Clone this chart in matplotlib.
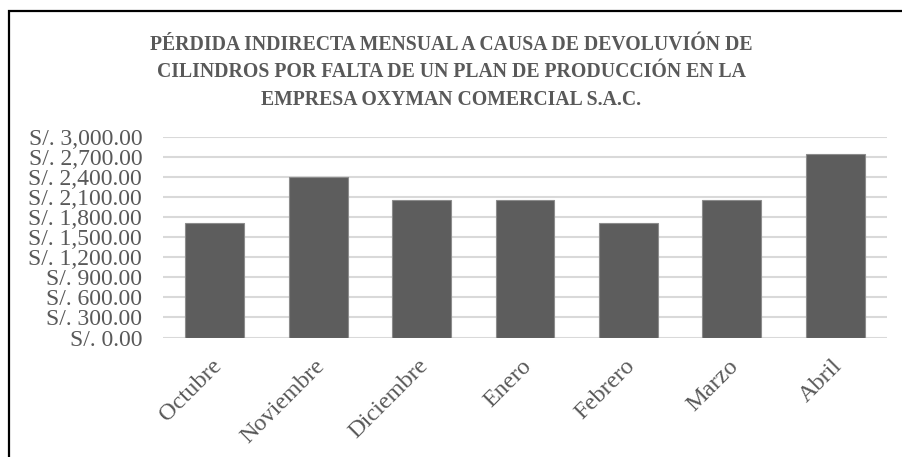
import matplotlib.pyplot as plt
import matplotlib.transforms as mtransforms
from matplotlib.patches import Rectangle

# Data
meses = ['Octubre', 'Noviembre', 'Diciembre', 'Enero', 'Febrero', 'Marzo', 'Abril']
perdida = [1715, 2401, 2058, 2058, 1715, 2058, 2744]
yticks = list(range(0, 3001, 300))

gris = '#595959'
plt.rcParams['font.family'] = ['Liberation Serif', 'DejaVu Serif']

fig = plt.figure(figsize=(9.03, 4.57), dpi=100)
ax = fig.add_axes([163 / 903, 1 - 337.5 / 457, (887 - 163) / 903, (337.5 - 137) / 457])

ax.bar(range(len(meses)), perdida, width=0.57, color='#5d5d5d', edgecolor='#8c8c8c', linewidth=0.8, zorder=3)

ax.set_ylim(0, 3000)
ax.set_xlim(-0.5, len(meses) - 0.5)
ax.set_yticks(yticks)
ax.set_yticklabels(['S/. {:,.2f}'.format(v) for v in yticks], fontsize=17, color=gris)
ax.set_xticks(range(len(meses)))
ax.set_xticklabels(meses, rotation=45, ha='right', rotation_mode='anchor', fontsize=17.5, color=gris)
ax.tick_params(axis='x', length=0, pad=13)
ax.tick_params(axis='y', length=0, pad=15)
ax.yaxis.grid(True, color='#d9d9d9', linewidth=1.5, zorder=0)
for s in ax.spines.values():
    s.set_visible(False)

# desplazar un poco las etiquetas del eje x a la izquierda
desp = mtransforms.ScaledTranslation(-4 / 100, 0, fig.dpi_scale_trans)
for lbl in ax.get_xticklabels():
    lbl.set_transform(lbl.get_transform() + desp)

fig.text(0.5, 1 - 72 / 457,
         'PÉRDIDA INDIRECTA MENSUAL A CAUSA DE DEVOLUVIÓN DE\n'
         'CILINDROS POR FALTA DE UN PLAN DE PRODUCCIÓN EN LA\n'
         'EMPRESA OXYMAN COMERCIAL S.A.C.',
         ha='center', va='center', fontsize=14.2, fontweight='bold', color=gris, linespacing=1.5)

# marco del grafico
fig.patches.append(Rectangle((8.5 / 903, -0.1), 1.2, 1 - 10.5 / 457 + 0.1, transform=fig.transFigure,
                             fill=False, edgecolor='black', linewidth=1.6))

fig.savefig('out.png', dpi=100)
